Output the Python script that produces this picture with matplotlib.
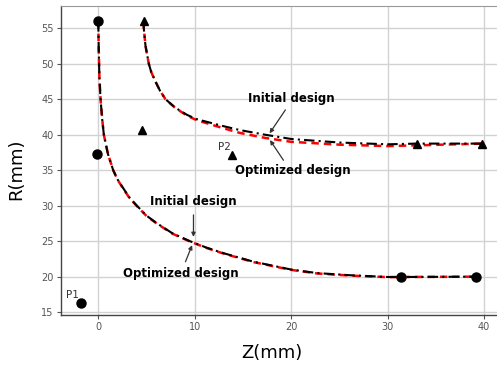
import matplotlib
matplotlib.use("Agg")
import matplotlib.pyplot as plt

# Lower profile
low_z = [0.0, 0.05, 0.12, 0.24, 0.4, 0.58, 1.0, 1.55, 2.0, 2.5, 3.2, 4.0, 5.0,
         6.1, 7.7, 9.5, 11.2, 13.0, 16.1, 20.0, 22.7, 26.1, 30.0, 31.4, 35.0, 39.3]
low_r_init = [56.0, 52.0, 48.0, 45.0, 42.3, 40.0, 37.3, 35.0, 33.7, 32.65, 31.2,
              30.0, 28.6, 27.5, 26.1, 25.0, 24.1, 23.3, 22.1, 21.0, 20.5, 20.2,
              19.95, 19.95, 19.97, 20.0]
low_r_opt = [56.0, 52.0, 48.0, 45.0, 42.3, 40.0, 37.3, 35.0, 33.65, 32.6, 31.15,
             29.95, 28.55, 27.45, 26.05, 24.95, 24.05, 23.25, 22.05, 20.95, 20.45,
             20.15, 19.93, 19.95, 19.97, 20.0]

# Upper profile
up_z = [4.7, 4.72, 4.9, 5.24, 5.5, 5.93, 6.4, 6.97, 8.0, 9.2, 10.2, 11.3, 13.0,
        14.7, 17.3, 20.0, 25.0, 30.0, 33.0, 39.8]
up_r_init = [56.0, 55.0, 52.5, 50.0, 48.8, 47.5, 46.2, 45.0, 43.8, 42.8, 42.2,
             41.8, 41.2, 40.65, 40.0, 39.4, 38.9, 38.65, 38.75, 38.75]
up_r_opt = [56.0, 55.0, 52.5, 50.0, 48.8, 47.5, 46.2, 45.0, 43.75, 42.7, 42.05,
            41.6, 40.9, 40.25, 39.55, 39.0, 38.6, 38.4, 38.5, 38.75]

# control points
circ_z = [0.0, -0.1, -1.75, 31.4, 39.2]
circ_r = [56.0, 37.25, 16.25, 20.0, 20.0]
tri_z = [4.7, 4.5, 13.9, 33.0, 39.8]
tri_r = [56.0, 40.7, 37.1, 38.75, 38.75]

xticks = [0, 10, 20, 30, 40]
yticks = [15, 20, 25, 30, 35, 40, 45, 50, 55]

fig = plt.figure(figsize=(4.97, 3.71), dpi=100)
ax = fig.add_axes([0.122, 0.152, 0.888, 0.832])

ax.grid(color='#d2d2d2', linewidth=1.0, zorder=0)
ax.set_axisbelow(True)

ax.plot(low_z, low_r_opt, '--', color='red', lw=1.8, dashes=(3, 2), zorder=2)
ax.plot(low_z, low_r_init, '-.', color='black', lw=1.5, dashes=(5, 2, 1, 2), zorder=3)
ax.plot(up_z, up_r_opt, '--', color='red', lw=1.8, dashes=(3, 2), zorder=2)
ax.plot(up_z, up_r_init, '-.', color='black', lw=1.5, dashes=(5, 2, 1, 2), zorder=3)

ax.plot(circ_z, circ_r, 'o', color='black', markersize=6.5, zorder=4)
ax.plot(tri_z, tri_r, '^', color='black', markersize=5.5, zorder=4)

bold = dict(fontsize=8.5, fontweight='bold', color='black', ha='center', va='center')
arrow = dict(arrowstyle='-|>', color='#333333', lw=0.9, mutation_scale=6,
             shrinkA=0, shrinkB=0)

ax.text(20.06, 45.1, 'Initial design', **bold)
ax.annotate('', xy=(17.76, 40.2), xytext=(19.4, 43.5), arrowprops=arrow)
ax.text(20.2, 34.9, 'Optimized design', **bold)
ax.annotate('', xy=(17.8, 39.25), xytext=(19.2, 36.4), arrowprops=arrow)

ax.text(9.87, 30.55, 'Initial design', **bold)
ax.annotate('', xy=(9.87, 25.6), xytext=(9.87, 28.7), arrowprops=arrow)
ax.text(8.6, 20.45, 'Optimized design', **bold)
ax.annotate('', xy=(9.73, 24.44), xytext=(9.04, 22.1), arrowprops=arrow)

ax.text(13.75, 38.25, 'P2', fontsize=7.5, color='#333333', ha='right', va='center')
ax.text(-2.0, 17.4, 'P1', fontsize=7.5, color='#333333', ha='right', va='center')

ax.set_xlim(-3.9, 41.85)
ax.set_ylim(14.65, 58.15)
ax.set_xticks(xticks)
ax.set_yticks(yticks)
ax.tick_params(labelsize=7, colors='#555555', length=3, width=0.8, pad=2)

for side in ['left', 'bottom']:
    ax.spines[side].set_color('#444444')
    ax.spines[side].set_linewidth(1.0)
ax.spines['top'].set_color('#999999')
ax.spines['right'].set_visible(False)

ax.set_xlabel('Z(mm)', fontsize=13)
ax.set_ylabel('R(mm)', fontsize=13)
ax.xaxis.set_label_coords(0.479, -0.096)
ax.yaxis.set_label_coords(-0.08, 0.47)

fig.savefig('out.png', dpi=100, facecolor='white')
